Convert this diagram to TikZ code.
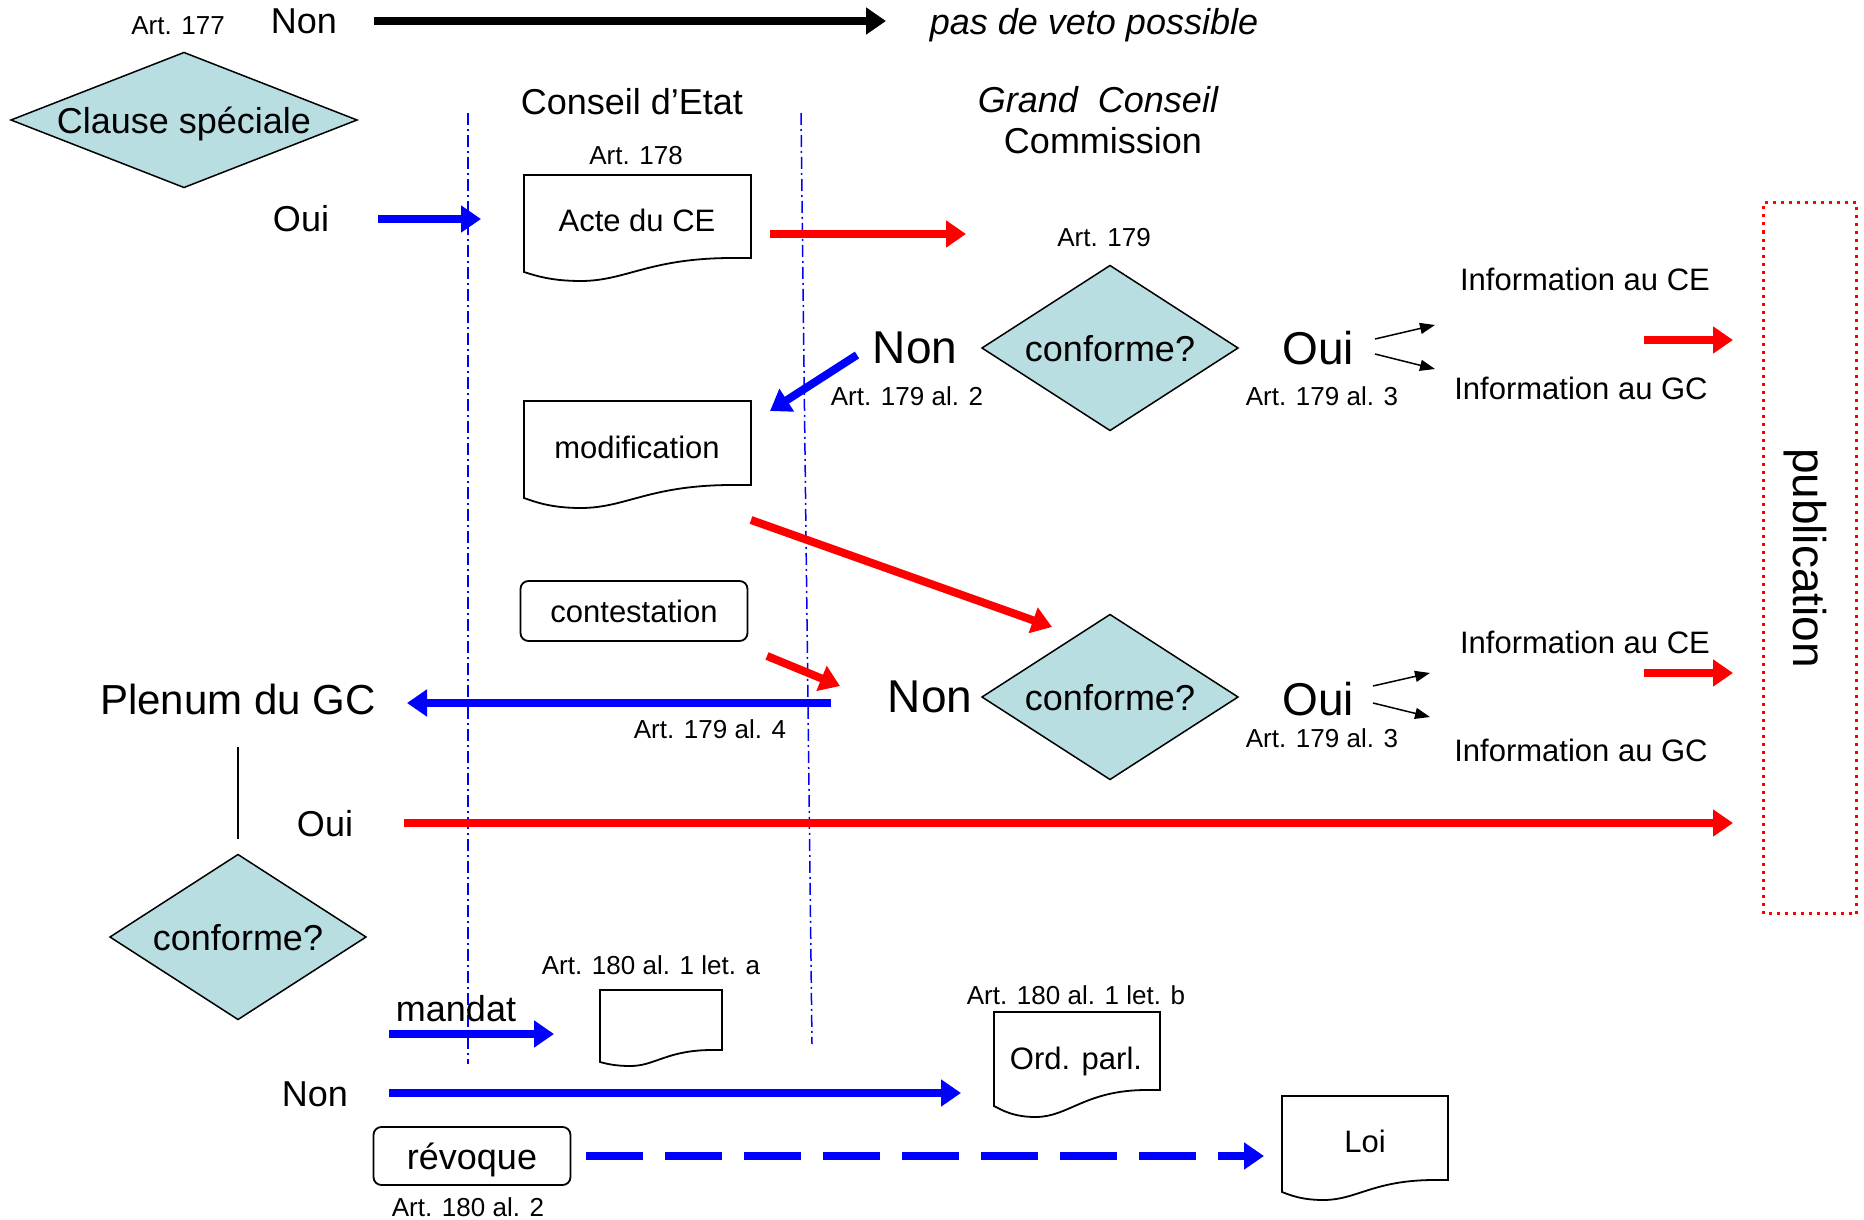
\documentclass[tikz,border=0pt]{standalone}
\usepackage{fontspec}
\setmainfont{Liberation Sans}
\usetikzlibrary{arrows.meta,shapes.geometric}
\definecolor{diamfill}{RGB}{184,222,226}
\definecolor{myblue}{RGB}{0,0,255}
\definecolor{myred}{RGB}{255,0,0}
\newcommand\fsA{\fontsize{26}{30}\selectfont}
\newcommand\fsB{\fontsize{31}{36}\selectfont}
\newcommand\fsC{\fontsize{36}{42}\selectfont}
\newcommand\fsE{\fontsize{42}{48}\selectfont}
\newcommand\fsD{\fontsize{46}{52}\selectfont}
% document shape: x1, top, x2, y right bottom, y left bottom, y lowest
\newcommand\docpath[6]{%
  \draw[docline] (#1,#2) -- (#3,#2) -- (#3,#4) -- ({#3-0.08*(#3-#1)},#4)
    .. controls ({#1+0.55*(#3-#1)},#4) and ({#1+0.45*(#3-#1)},#6) .. ({#1+0.25*(#3-#1)},#6)
    .. controls ({#1+0.12*(#3-#1)},#6) and ({#1+0.05*(#3-#1)},{#5+0.4*(#6-#5)}) .. (#1,#5) -- cycle;}
\begin{document}
\begin{tikzpicture}[x=1pt,y=-1pt,
  every node/.style={text depth=0pt},
  lbl/.style={inner sep=0pt, outer sep=0pt, anchor=center},
  diam/.style={shape=diamond, draw=black, line width=1.5pt, fill=diamfill, inner sep=0pt, outer sep=0pt, shape aspect=1.55},
  bigarrow/.style={line width=8pt, -{Triangle[length=20pt,width=26pt]}},
  thinarrow/.style={line width=1.5pt, -{Triangle[length=15pt,width=11pt]}},
  sepline/.style={myblue, line width=1.5pt, dash pattern=on 12pt off 4pt on 2pt off 4pt},
  docline/.style={draw=black, line width=1.8pt},
  roundbox/.style={draw=black, line width=1.8pt, rounded corners=8pt, inner sep=0pt, outer sep=0pt}
]
\useasboundingbox (0,0) rectangle (1864,1220);

% separators
\coordinate (s1a) at (468,113); \coordinate (s1b) at (468,1064);
\coordinate (s2a) at (801,113); \coordinate (s2b) at (812,1044);
\draw[sepline] (s1a) -- (s1b);
\draw[sepline] (s2a) -- (s2b);

% top row
\node[lbl] (art177) at (178,26) {\fsA Art. 177};
\node[lbl] (non0) at (304,21) {\fsC Non};
\node[lbl] (veto) at (1094,21) {\fsC\itshape pas de veto possible};
\coordinate (a0s) at (374,21); \coordinate (a0e) at (886,21);
\draw[bigarrow, black] (a0s) -- (a0e);

\node[diam, shape aspect=2.56, minimum width=346pt, minimum height=135pt] (clause) at (184,120) {\fsC Clause spéciale};

\node[lbl] (oui0) at (301,218) {\fsC Oui};
\coordinate (b0s) at (378,219); \coordinate (b0e) at (481,219);
\draw[bigarrow, myblue] (b0s) -- (b0e);

% headers
\node[lbl] (ce) at (632,101) {\fsC Conseil d’Etat};
\node[lbl] (gc) at (1098,99) {\fsC\itshape Grand\ \ Conseil};
\node[lbl] (comm) at (1103,140) {\fsC Commission};

% Acte du CE
\node[lbl] (art178) at (636,155) {\fsA Art. 178};
\docpath{524}{175}{751}{258}{272}{281}
\node[lbl] (acte) at (637,220) {\fsB Acte du CE};
\coordinate (r1s) at (770,234); \coordinate (r1e) at (966,234);
\draw[bigarrow, myred] (r1s) -- (r1e);

% first check
\node[lbl] (art179) at (1104,237) {\fsA Art. 179};
\node[diam, minimum width=256pt, minimum height=165pt] (conf1) at (1110,348) {\fsC conforme?};
\node[lbl] (non1) at (915,348) {\fsD Non};
\node[lbl] (art1792) at (907,396) {\fsA Art. 179 al. 2};
\coordinate (b1s) at (857,355); \coordinate (b1e) at (770,411);
\draw[bigarrow, myblue] (b1s) -- (b1e);
\node[lbl] (oui1) at (1318,348) {\fsD Oui};
\node[lbl] (art1793a) at (1322,396) {\fsA Art. 179 al. 3};
\coordinate (k1s) at (1375,339); \coordinate (k1e) at (1435,325);
\coordinate (k2s) at (1375,354); \coordinate (k2e) at (1435,369);
\draw[thinarrow] (k1s) -- (k1e);
\draw[thinarrow] (k2s) -- (k2e);
\node[lbl] (infce1) at (1585,279) {\fsB Information au CE};
\node[lbl] (infgc1) at (1581,388) {\fsB Information au GC};
\coordinate (r2s) at (1644,340); \coordinate (r2e) at (1733,340);
\draw[bigarrow, myred] (r2s) -- (r2e);

% publication
\node[draw=myred, line width=3pt, dash pattern=on 3pt off 5pt, rotate=-90, minimum width=711pt, minimum height=93pt, inner sep=0pt] (publ) at (1810,558) {\fsD publication};

% modification
\docpath{524}{401}{751}{485}{498}{508}
\node[lbl] (modif) at (637,447) {\fsB modification};
\coordinate (r3s) at (751,520); \coordinate (r3e) at (1052,627);
\draw[bigarrow, myred] (r3s) -- (r3e);

% contestation
\node[roundbox, minimum width=227pt, minimum height=60pt] (contest) at (634,611) {\fsB contestation};
\coordinate (r4s) at (767,656); \coordinate (r4e) at (840,686);
\draw[bigarrow, myred] (r4s) -- (r4e);

% plenum
\coordinate (b2s) at (831,703); \coordinate (b2e) at (407,703);
\draw[bigarrow, myblue] (b2s) -- (b2e);
\node[lbl] (plenum) at (238,699) {\fsE Plenum du GC};
\node[lbl] (art1794) at (710,729) {\fsA Art. 179 al. 4};

% second check
\node[diam, minimum width=256pt, minimum height=165pt] (conf2) at (1110,697) {\fsC conforme?};
\node[lbl] (non2) at (930,697) {\fsD Non};
\node[lbl] (oui2) at (1318,699) {\fsD Oui};
\node[lbl] (art1793b) at (1322,738) {\fsA Art. 179 al. 3};
\coordinate (k3s) at (1373,686); \coordinate (k3e) at (1430,673);
\coordinate (k4s) at (1373,703); \coordinate (k4e) at (1430,717);
\draw[thinarrow] (k3s) -- (k3e);
\draw[thinarrow] (k4s) -- (k4e);
\node[lbl] (infce2) at (1585,642) {\fsB Information au CE};
\node[lbl] (infgc2) at (1581,750) {\fsB Information au GC};
\coordinate (r5s) at (1644,673); \coordinate (r5e) at (1733,673);
\draw[bigarrow, myred] (r5s) -- (r5e);

% plenum check
\coordinate (v1) at (238,747); \coordinate (v2) at (238,839);
\draw[line width=1.5pt] (v1) -- (v2);
\node[lbl] (oui3) at (325,823) {\fsC Oui};
\coordinate (r6s) at (404,823); \coordinate (r6e) at (1733,823);
\draw[bigarrow, myred] (r6s) -- (r6e);
\node[diam, minimum width=256pt, minimum height=165pt] (conf3) at (238,937) {\fsC conforme?};

% mandat
\node[lbl] (art180a) at (651,965) {\fsA Art. 180 al. 1 let. a};
\node[lbl] (mandat) at (456,1008) {\fsC mandat};
\coordinate (b3s) at (389,1034); \coordinate (b3e) at (554,1034);
\draw[bigarrow, myblue] (b3s) -- (b3e);
\docpath{600}{990}{722}{1050}{1062}{1066}

% Non -> Ord. parl.
\node[lbl] (non3) at (315,1094) {\fsC Non};
\coordinate (b4s) at (389,1093); \coordinate (b4e) at (961,1093);
\draw[bigarrow, myblue] (b4s) -- (b4e);
\node[lbl] (art180b) at (1076,995) {\fsA Art. 180 al. 1 let. b};
\docpath{994}{1012}{1160}{1090}{1106}{1117}
\node[lbl] (ordparl) at (1076,1058) {\fsB Ord. parl.};

% revoque
\node[roundbox, minimum width=197pt, minimum height=58pt] (revoque) at (472,1156) {\fsC révoque};
\node[lbl] (art1802) at (468,1207) {\fsA Art. 180 al. 2};
\coordinate (b5s) at (586,1156); \coordinate (b5e) at (1264,1156);
\draw[bigarrow, myblue, dash pattern=on 57pt off 22pt] (b5s) -- (b5e);
\docpath{1282}{1096}{1448}{1180}{1192}{1200}
\node[lbl] (loi) at (1365,1141) {\fsB Loi};
\end{tikzpicture}
\end{document}
